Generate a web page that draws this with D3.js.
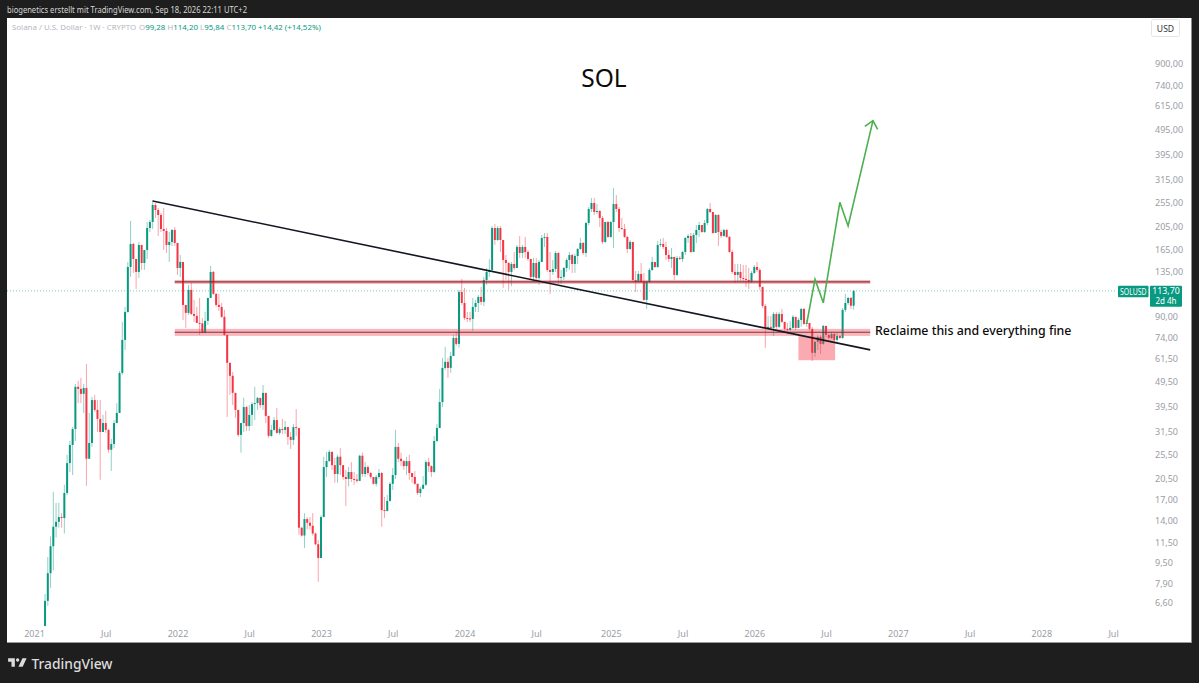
<!DOCTYPE html>
<html><head><meta charset="utf-8">
<script src="https://cdn.jsdelivr.net/npm/d3@7"></script>
<style>
html,body{margin:0;padding:0;background:#1e1e1e;overflow:hidden}
svg{display:block}
text{font-family:"Noto Sans",sans-serif}
</style></head><body><div id="chart"></div>
<script>
const firstWeek = "2021-02-01";
const firstOpen = 5.35;
const closes = [
6.73,8.66,11.08,13.23,13.84,14.45,14.32,18.0,23.64,27.9,
32.24,47.4,46.5,44.45,46.9,24.6,28.4,42.0,38.4,35.37,
31.4,34.06,32,26.7,28.15,34.06,37.36,53.8,72.7,93.8,
141.4,174.4,152.1,135.1,172.8,146.6,165.1,201.7,213.1,248.8,
237.7,227.1,199.9,196.3,172.8,177.6,198.1,176,140.1,148,
100,93,114.7,92.1,90.5,84.9,84.5,77.5,86.5,106.6,
135.1,110.6,100,98.2,89.7,76.1,59,52.4,44.85,38.4,
30.57,34.06,39.4,33.13,36.69,40.5,40.87,42.85,40.13,44.85,
36.35,30.3,32,35,31.14,32.24,32,32.83,30.02,29.2,
32.83,32.54,13.11,12.21,14.19,13.72,13.35,12.44,11.28,9.95,
14.45,22.8,24.08,26.2,23.2,21.4,25.05,23.2,20.83,20.45,
21.8,20.45,20.36,20.1,25.28,21.4,22.8,21.6,20.83,19.57,
20.83,21.6,15.4,15.26,16.75,19.57,21.2,27.4,24.6,24.08,
23,24.08,21.6,20.83,19.57,18,18.7,19.4,23.86,23,
21.8,28.93,32.54,41.24,56.3,59.5,56.3,62.8,74,70.1,
112.6,101.8,88.8,88.4,88,98.2,101.8,107.6,102.8,125.6,
135.1,137.6,201.7,180.8,201.7,180.8,150.7,146.6,135.1,145.3,
140.1,169.7,160.6,169.7,162.1,152.1,129.1,146.6,127.9,148,
184.2,185.9,137.6,135.1,138.8,160.6,127.9,129.1,140.1,150.7,
157.7,145.3,156.3,166.6,176,160.6,211.1,239.9,253.4,233.4,
235.5,221,177.6,213.1,185.9,213.1,251.1,239.9,201.7,199.9,
185.9,166.6,177.6,125.6,123.4,132.7,123.4,104.7,123.4,137.6,
148,141.4,172.8,174.4,169.7,157.7,152.1,154.9,131.5,153.5,
152.1,162.1,184.2,187.6,162.1,189.3,198.1,207.3,194.5,211.1,
239.9,233.4,192.8,227.1,194.5,187.6,198.1,185.9,162.1,135.1,
131.5,135.1,127.9,126.8,125.6,123.4,133.9,141.4,137.6,117.9,
99.1,81.1,81.9,81.1,92.1,81.9,92.1,85.7,80.4,79.6,
81.1,89.7,81.1,87.2,96.4,84.1,84.9,80.4,64.6,71.4,
74.7,70.1,82.6,76.1,74,76.8,72.7,75.4,74,95.6,
101.8,106.6,99.28,113.7];
const highs = [
7.17,10.04,12.1,18.17,16.44,16.44,14.98,19.4,25.5,28.93,
32.83,48.7,50.04,51.4,48.7,58.4,37.36,43.25,44.04,42,
42,36.69,38.05,32.24,29.48,35,40.87,54.8,85.7,98.2,
148,215,176,152.1,177.6,172.8,165.1,213.1,217,260.4,
253.4,242.1,231.3,242.1,201.7,194.5,199.9,203.6,176,157.7,
148,100,120,122.2,104.7,98.2,106.6,88.8,93.8,106.6,
142.7,136.3,111.6,110.6,101.8,95.6,76.1,59,54.3,44.85,
38.4,34.06,42.85,39.8,40.13,41.24,47.4,43.25,42.85,48.2,
44.85,36.35,33.5,36,39,32.83,35.37,34.7,32.83,31.4,
33.74,38.7,32.54,13.23,14.98,14.45,14.45,14.98,12.55,11.7,
14.7,25.05,26.2,26.7,26.2,24.8,25.5,27.1,23.2,22.2,
22.8,23.86,21.8,21.4,25.5,26,23.86,23.2,21.8,20.83,
21.2,22.4,21.8,17.35,17.67,19.9,22.6,32,28.4,26,
24.3,25.05,25.5,21.6,22,19.57,19.1,21,24.3,24.8,
23.2,30.3,33.74,46.5,61.7,68.2,61.7,65.2,76.1,78.2,
114.7,126.8,116.8,93.8,93.8,106.6,104.7,109.6,117.9,129.1,
140.1,152.1,205.4,209.2,205.4,205.4,180.8,157.7,148,148,
162.1,172.8,187.6,172.8,185.9,165.1,150.7,153.5,153.5,150.7,
189.3,192.8,192.8,162.1,150.7,163.6,162.1,137.6,141.4,153.5,
162.1,159.2,159.2,168.1,184.2,177.6,213.1,244.3,265.2,265.2,
251.1,237.7,225,213.1,215,215,290.9,272.5,244.3,221,
209.2,187.6,180.8,177.6,136.3,136.3,146.6,133.9,124.5,140.1,
154.9,148,179.2,182.5,184.2,177.6,165.1,168.1,154.9,156.3,
156.3,163.6,185.9,191,192.8,192.8,207.3,213.1,207.3,217,
242.1,253.4,233.4,229.2,229.2,198.1,199.9,199.9,187.6,165.1,
145.3,145.3,145.3,144,144,140.1,136.3,144,148,140.1,
117.9,100.9,90.5,90.5,93.8,93.8,93.8,96.4,85.7,84.9,
86.5,91.3,89.7,88.8,97.3,97.3,87.2,84.9,81.9,72,
76.1,76.1,83.4,82.6,77.5,78.2,77.5,77.5,76.1,97.3,
110.6,107.6,107.6,114.2];
const lows = [
5.35,6.43,7.58,8.9,11.99,13.11,13.11,12.44,17.67,21.8,
21.2,28.93,40.87,40.87,37.36,19.2,24.6,27.4,37.7,31.4,
20.3,31.4,31.14,26,22,27.1,34.06,37.36,52.9,66.4,
93,129.1,133.9,115.7,127.9,137.6,137.6,152.1,194.5,199.9,
221,187.6,194.5,165.1,160.6,148,171.2,171.2,131.5,129.1,
87.2,81.1,91.3,91.3,85.7,84.9,76.1,77.5,77.5,83.4,
106.6,109.6,98.2,94.7,88.8,75.4,36,44.04,40.13,35.7,
30.02,26,31.4,31.7,31.7,33.2,35,38.4,39,38.4,
34.06,29.75,30.02,31.7,30.86,30.57,30.86,30.86,27.9,26.9,
27.9,30.3,12.32,12.1,10.88,12.9,12.9,12.21,11.18,8,
9.95,14.45,20.83,23.86,22.2,19.75,19.75,21.2,20.3,15.98,
19.1,19.9,19.4,19.75,20.1,20.83,20.83,21.2,20.45,19.4,
19.1,20.45,13.23,14.32,15.26,16.6,18.5,20.45,23.86,23,
22.2,21.2,20.3,19.75,19.4,17.67,17.35,18.7,19.2,21.8,
20.83,21.6,28.6,32.54,39.4,55.3,51.4,53.8,62.8,68.8,
67.6,100,87.2,85.7,85.7,78.9,93.8,93.8,100,99.1,
120,129.1,135.1,172.8,179.2,162.1,116.8,125.6,114.7,118.9,
137.6,140.1,153.5,153.5,153.5,149.3,125.6,123.4,123.4,120,
148,169.7,135.1,110.6,131.5,135.1,121.1,121.1,125.6,135.1,
137.6,133.9,133.9,145.3,165.1,157.7,154.9,207.3,233.4,227.1,
229.2,203.6,174.4,176,184.2,184.2,168.1,233.4,194.5,198.1,
184.2,160.6,165.1,123.4,112.6,122.2,122.2,103.7,96.4,122.2,
136.3,140.1,140.1,169.7,166.6,150.7,148,140.1,125.6,130.3,
150.7,148,157.7,176,160.6,162.1,176,185.9,192.8,192.8,
207.3,231.3,191,192.8,171.2,184.2,185.9,184.2,160.6,132.7,
122.2,123.4,123.4,123.4,117.9,115.7,122.2,132.7,135.1,114.7,
97.3,67.6,80.4,80.4,75.4,80.4,81.1,84.9,78.9,76.8,
78.9,80.4,79.6,81.1,81.9,83.4,81.9,78.9,60,62.3,
66.4,64,69.5,74.7,73.4,73.4,71.4,71.4,73.4,73.4,
93.8,100,96.4,95.84];

const priceTicks = [900,740,615,495,395,315,255,205,165,135,90,74,61.5,49.5,39.5,31.5,25.5,20.5,17,14,11.5,9.5,7.9,6.6];
const timeTickDates = ["2021-01-04","2021-07-05","2022-01-03","2022-07-04","2023-01-02","2023-07-03","2024-01-01","2024-07-01","2025-01-06","2025-07-07","2026-01-05","2026-07-06","2027-01-04","2027-07-05","2028-01-03","2028-07-03"];
const timeTickLabels = ["2021","Jul","2022","Jul","2023","Jul","2024","Jul","2025","Jul","2026","Jul","2027","Jul","2028","Jul"];

const trendDates = ["2021-11-01","2026-10-26"];
const trendPrices = [258,66.4];
const upperZone = {start:"2021-12-27",end:"2026-10-26",top:125.6,mid:123.4,bottom:121.1};
const lowerZone = {start:"2021-12-27",end:"2026-10-26",top:80.4,mid:78,bottom:75.4};
const boxDates = ["2026-04-27","2026-07-29"];
const boxPrices = [75.4,60.4];
const pathDates = ["2026-05-18","2026-06-08","2026-06-29","2026-08-10","2026-08-31","2026-11-02"];
const pathPrices = [84.6,126.4,102,255,205.4,537];
const lastPrice = 113.7;

const W=1199,H=683,panel={l:7,t:18,r:1191.5,b:643};
const upCol="#089981",dnCol="#f23645",grey="#b4b7bf";
const svg=d3.select("#chart").append("svg").attr("width",W).attr("height",H);
svg.append("rect").attr("width",W).attr("height",H).attr("fill","#1e1e1e");
svg.append("rect").attr("x",panel.l).attr("y",panel.t).attr("width",panel.r-panel.l).attr("height",panel.b-panel.t).attr("fill","#fff");
svg.append("line").attr("x1",panel.l).attr("x2",panel.r).attr("y1",panel.b-.5).attr("y2",panel.b-.5).attr("stroke","#9a9a9a").attr("stroke-width",1);

const parse=d3.utcParse("%Y-%m-%d");
const x=d3.scaleUtc().domain([parse("2021-01-04"),parse("2028-01-03")]).range([34,1041.3]);
const y=d3.scaleLog().domain([900,6.6]).range([64,603]);

const start=parse(firstWeek);
const bars=closes.map((c,i)=>({d:d3.utcWeek.offset(start,i),o:i?closes[i-1]:firstOpen,h:highs[i],l:lows[i],c}));

// last price line
svg.append("line").attr("x1",panel.l).attr("x2",1117).attr("y1",y(lastPrice)).attr("y2",y(lastPrice))
 .attr("stroke",upCol).attr("stroke-opacity",.55).attr("stroke-width",1).attr("stroke-dasharray","1 2");

// candles
const g=svg.append("g");
const col=d=>d.c>=d.o?upCol:dnCol;
g.selectAll("line.w").data(bars).join("line").attr("class","w")
 .attr("x1",d=>x(d.d)).attr("x2",d=>x(d.d)).attr("y1",d=>y(d.h)).attr("y2",d=>y(d.l))
 .attr("stroke",col).attr("stroke-width",1).attr("stroke-opacity",.45);
g.selectAll("rect.b").data(bars).join("rect").attr("class","b")
 .attr("x",d=>x(d.d)-1).attr("width",2)
 .attr("y",d=>Math.min(y(d.o),y(d.c)))
 .attr("height",d=>Math.max(1,Math.abs(y(d.o)-y(d.c))))
 .attr("fill",col);

// drawings
function zone(z){
 const x0=x(parse(z.start)),x1=x(parse(z.end));
 svg.append("rect").attr("x",x0).attr("width",x1-x0).attr("y",y(z.top)).attr("height",y(z.bottom)-y(z.top))
  .attr("fill",dnCol).attr("fill-opacity",.36);
 svg.append("line").attr("x1",x0).attr("x2",x1).attr("y1",y(z.mid)).attr("y2",y(z.mid))
  .attr("stroke","#6b2b30").attr("stroke-width",1.1).attr("stroke-opacity",.9);
}
zone(upperZone);zone(lowerZone);
svg.append("rect").attr("x",x(parse(boxDates[0]))).attr("width",x(parse(boxDates[1]))-x(parse(boxDates[0])))
 .attr("y",y(boxPrices[0])).attr("height",y(boxPrices[1])-y(boxPrices[0]))
 .attr("fill",dnCol).attr("fill-opacity",.42);
svg.append("line").attr("x1",x(parse(trendDates[0]))).attr("x2",x(parse(trendDates[1])))
 .attr("y1",y(trendPrices[0])).attr("y2",y(trendPrices[1])).attr("stroke","#131722").attr("stroke-width",1.6);
const pts=pathDates.map((d,i)=>[x(parse(d)),y(pathPrices[i])]);
svg.append("path").attr("d",d3.line()(pts)).attr("fill","none").attr("stroke","#4caf50").attr("stroke-width",1.6);
const tip=pts[pts.length-1],prev=pts[pts.length-2];
const ang=Math.atan2(tip[1]-prev[1],tip[0]-prev[0]),al=10;
const barb=a=>[tip[0]-al*Math.cos(ang+a),tip[1]-al*Math.sin(ang+a)];
svg.append("path").attr("d",d3.line()([barb(.72),tip,barb(-.72)])).attr("fill","none").attr("stroke","#4caf50").attr("stroke-width",1.6);

// axes
const fmt=v=>v.toFixed(2).replace(".",",");
const ya=svg.append("g").attr("transform","translate(1155,0)")
 .call(d3.axisRight(y).tickValues(priceTicks).tickFormat(fmt).tickSize(0).tickPadding(0));
ya.select(".domain").remove();
ya.selectAll("text").attr("fill","#9a9da6").attr("font-size",9);
const xa=svg.append("g").attr("transform","translate(0,631)")
 .call(d3.axisBottom(x).tickValues(timeTickDates.map(parse)).tickFormat((d,i)=>timeTickLabels[i]).tickSize(0).tickPadding(0));
xa.select(".domain").remove();
xa.selectAll("text").attr("fill","#9a9da6").attr("font-size",9).attr("dy",".71em").attr("y",0);

// texts
const T=(s,px,py,size,fill,anchor,weight)=>svg.append("text").attr("x",px).attr("y",py).attr("font-size",size).attr("fill",fill).attr("text-anchor",anchor||"start").attr("font-weight",weight||400).text(s);
const Fit=(s,px,py,size,fill,len,weight)=>T(s,px,py,size,fill,"start",weight).attr("textLength",len).attr("lengthAdjust","spacingAndGlyphs");
Fit("biogenetics erstellt mit TradingView.com, Sep 18, 2026 22:11 UTC+2",7,13,9.2,"#d6d6d6",240);
T("Solana / U.S. Dollar · 1W · CRYPTO",12,30,7.9,grey);
const ohlc=svg.append("text").attr("x",139).attr("y",30).attr("font-size",7.9);
[["O",grey],["99,28 ",upCol],["H",grey],["114,20 ",upCol],["L",grey],["95,84 ",upCol],["C",grey],["113,70 ",upCol],["+14,42 (+14,52%)",upCol]]
 .forEach(([s,c])=>ohlc.append("tspan").attr("fill",c).text(s));
T("SOL",604,87,24.5,"#0b0b0b","middle");
T("Reclaime this and everything fine",875,335,12.35,"#0b0b0b","start",500);

// USD button
svg.append("rect").attr("x",1151.5).attr("y",19.5).attr("width",28).attr("height",17).attr("rx",2).attr("fill","#fff").attr("stroke","#e4e4e6");
T("USD",1165.5,31.5,8.6,"#333","middle");

// price labels
const ly=y(lastPrice)-5;
svg.append("rect").attr("x",1118).attr("y",ly).attr("width",30.5).attr("height",11.5).attr("rx",1).attr("fill",upCol);
Fit("SOLUSD",1120,ly+8.8,8,"#fff",26.5);
svg.append("rect").attr("x",1150).attr("y",ly).attr("width",32).attr("height",21).attr("rx",1).attr("fill",upCol);
T("113,70",1166,ly+8.6,8.8,"#fff","middle");
T("2d 4h",1166,ly+18.4,8,"#fff","middle");

// logo
svg.append("path").attr("transform","translate(7,655) scale(.56)")
 .attr("d","M14 6H2v6h6v9h6V6Zm14 15h-7.5l7-15H35l-7 15Zm-9-9a3 3 0 1 0 0-6 3 3 0 0 0 0 6Z").attr("fill","#dcdcdc");
T("TradingView",31.5,668.5,13.8,"#dcdcdc","start",500);
</script></body></html>
